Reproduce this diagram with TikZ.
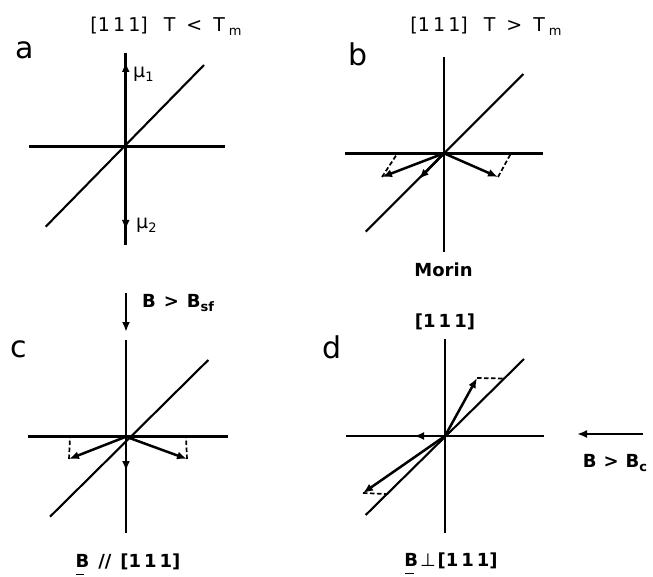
\documentclass[tikz,border=0pt]{standalone}
\usepackage{fontspec}
\setmainfont{DejaVu Sans}
\usetikzlibrary{arrows.meta}
\newcommand\lowsub[1]{\raisebox{-0.4ex}{\fontsize{13}{14}\selectfont #1}}
\begin{document}
\begin{tikzpicture}[x=1pt,y=-1pt,
 axis/.style={line width=2.6pt},
 diag/.style={line width=2.1pt},
 vec/.style={line width=2.5pt,-{Latex[length=10pt,width=8pt]}},
 proj/.style={line width=1.7pt,dash pattern=on 4.5pt off 2.5pt},
 lbl/.style={inner sep=0pt,font=\fontsize{19}{21}\selectfont},
 blbl/.style={inner sep=0pt,font=\fontsize{18}{20}\selectfont\bfseries},
 big/.style={inner sep=0pt,font=\fontsize{30}{33}\selectfont},
 uline/.style={line width=1pt},
]
\useasboundingbox (0,0) rectangle (653,577);

% ---------- panel a ----------
\coordinate (aO) at (125.7,146.7);
\coordinate (aT) at (125.7,53);
\coordinate (aB) at (125.7,245);
\coordinate (aL) at (29,146.7);
\coordinate (aR) at (225,146.7);
\coordinate (aD1) at (45.7,226.7);
\coordinate (aD2) at (204,65);
\coordinate (aM1) at (125.7,62);
\coordinate (aM2) at (125.7,230);
\draw[axis] (aL) -- (aR);
\draw[axis] (aT) -- (aB);
\draw[diag] (aD1) -- (aD2);
\draw[vec] (aO) -- (aM1);
\draw[vec] (aO) -- (aM2);
\node[lbl,anchor=west] (amu1) at (133,74) {μ\lowsub{1}};
\node[lbl,anchor=west] (amu2) at (136,225) {μ\lowsub{2}};
\node[lbl] (atitle) at (166,26) {[1\,1\,1]\hspace{16pt}T\hspace{11pt}<\hspace{11pt}T\hspace{4pt}\lowsub{m}};
\node[big] (alet) at (25,50) {a};

% ---------- panel b ----------
\coordinate (bO) at (444,153.3);
\coordinate (bT) at (444,57);
\coordinate (bB) at (444,252);
\coordinate (bL) at (345,153.3);
\coordinate (bR) at (542.7,153.3);
\coordinate (bD1) at (365.7,231.7);
\coordinate (bD2) at (523.3,74);
\coordinate (bV1) at (382,177);
\coordinate (bV2) at (419,179);
\coordinate (bV3) at (498,177);
\coordinate (bP1) at (397.5,153.3);
\coordinate (bP3) at (511,153.3);
\draw[axis] (bL) -- (bR);
\draw[axis] (bT) -- (bB);
\draw[diag] (bD1) -- (bD2);
\draw[vec] (bO) -- (bV1);
\draw[vec] (bO) -- (bV2);
\draw[vec] (bO) -- (bV3);
\draw[proj] (bV1) -- (bP1);
\draw[proj] (bV3) -- (bP3);
\node[lbl] (btitle) at (486,26) {[1\,1\,1]\hspace{16pt}T\hspace{11pt}>\hspace{11pt}T\hspace{4pt}\lowsub{m}};
\node[big] (blet) at (358,54) {b};
\node[blbl] (bmorin) at (443.5,270) {Morin};

% ---------- panel c ----------
\coordinate (cO) at (126,436.7);
\coordinate (cT) at (126,340);
\coordinate (cB) at (126,533);
\coordinate (cL) at (28,436.7);
\coordinate (cR) at (228,436.7);
\coordinate (cD1) at (50,516.7);
\coordinate (cD2) at (208.3,360);
\coordinate (cF1) at (126,293);
\coordinate (cF2) at (126,332);
\coordinate (cV1) at (69,459);
\coordinate (cV2) at (126,471);
\coordinate (cV3) at (187,459);
\coordinate (cP1) at (70,436.7);
\coordinate (cP3) at (186,436.7);
\draw[axis] (cL) -- (cR);
\draw[axis] (cT) -- (cB);
\draw[diag] (cD1) -- (cD2);
\draw[vec] (cF1) -- (cF2);
\draw[vec] (cO) -- (cV1);
\draw[vec] (cO) -- (cV2);
\draw[vec] (cO) -- (cV3);
\draw[proj] (cV1) -- (cP1);
\draw[proj] (cV3) -- (cP3);
\node[blbl,anchor=west] (cfield) at (142,303) {B\hspace{8pt}>\hspace{8pt}B\lowsub{sf}};
\node[big] (clet) at (19,349) {c};
\node[blbl] (cbot) at (128,562) {B\hspace{9pt}//\hspace{9pt}[1\,1\,1]};
\draw[uline] ([xshift=1pt,yshift=-4pt]cbot.south west) -- ++(8,0);

% ---------- panel d ----------
\coordinate (dO) at (445,436);
\coordinate (dT) at (445,339);
\coordinate (dB) at (445,533);
\coordinate (dL) at (346,436);
\coordinate (dR) at (544,436);
\coordinate (dD1) at (365.7,515);
\coordinate (dD2) at (524,359);
\coordinate (dV1) at (477,378);
\coordinate (dV2) at (414,436);
\coordinate (dV3) at (363,493);
\coordinate (dP1) at (503,378.5);
\coordinate (dP3) at (386,494);
\coordinate (dF1) at (643,434);
\coordinate (dF2) at (577,434);
\draw[axis] (dL) -- (dR);
\draw[axis] (dT) -- (dB);
\draw[diag] (dD1) -- (dD2);
\draw[vec] (dO) -- (dV1);
\draw[vec] (dO) -- (dV2);
\draw[vec] (dO) -- (dV3);
\draw[proj] (dV1) -- (dP1);
\draw[proj] (dV3) -- (dP3);
\draw[vec] (dF1) -- (dF2);
\node[blbl] (dfield) at (615,463) {B\hspace{7pt}>\hspace{7pt}B\lowsub{c}};
\node[blbl] (dtop) at (445,322) {[1\,1\,1]};
\node[big] (dlet) at (332,347) {d};
\node[blbl] (dbot) at (451,561) {B\hspace{2pt}{\mdseries ⊥}\hspace{2pt}[1\,1\,1]};
\draw[uline] ([xshift=1pt,yshift=-4pt]dbot.south west) -- ++(9,0);
\end{tikzpicture}
\end{document}
